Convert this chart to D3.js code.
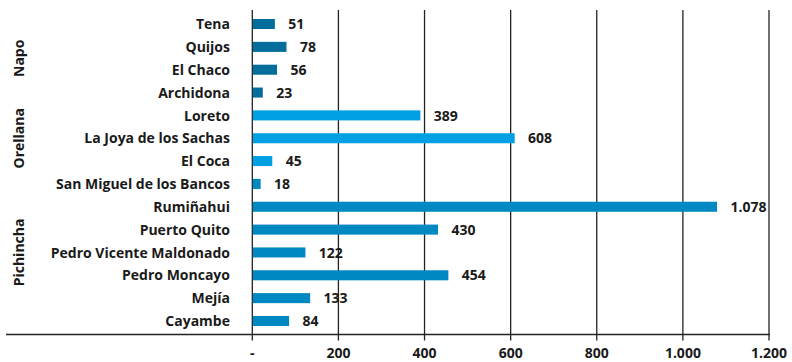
<!DOCTYPE html>
<html>
<head>
<meta charset="utf-8">
<script src="https://cdn.jsdelivr.net/npm/d3@7"></script>
<style>
  html, body { margin: 0; padding: 0; background: #fff; }
  svg text { font-family: "Open Sans", "Noto Sans", sans-serif; font-weight: 700; fill: #1a1a1a; }
</style>
</head>
<body>
<svg id="chart" width="792" height="362"></svg>
<script>
// Cantones y sus valores
const cantones = ["Tena", "Quijos", "El Chaco", "Archidona", "Loreto", "La Joya de los Sachas",
  "El Coca", "San Miguel de los Bancos", "Rumiñahui", "Puerto Quito",
  "Pedro Vicente Maldonado", "Pedro Moncayo", "Mejía", "Cayambe"];
const valores = [51, 78, 56, 23, 389, 608, 45, 18, 1078, 430, 122, 454, 133, 84];
const provinciaDeCanton = ["Napo", "Napo", "Napo", "Napo", "Orellana", "Orellana", "Orellana",
  "Pichincha", "Pichincha", "Pichincha", "Pichincha", "Pichincha", "Pichincha", "Pichincha"];
const provincias = ["Napo", "Orellana", "Pichincha"];
const coloresProvincia = ["#036d9b", "#00a0e3", "#0088c2"];
const ticksX = [0, 200, 400, 600, 800, 1000, 1200];
const etiquetasX = ["-", "200", "400", "600", "800", "1.000", "1.200"];

const svg = d3.select("#chart");
const x = d3.scaleLinear().domain([0, 1200]).range([252.3, 769]);
const y = d3.scaleBand().domain(cantones).range([12.6, 332.4]).paddingInner(0.56).paddingOuter(0.28);
const color = d3.scaleOrdinal().domain(provincias).range(coloresProvincia);
const fmt = d3.formatLocale({ decimal: ",", thousands: ".", grouping: [3], currency: ["$", ""] }).format(",d");

const gridTop = 10, baseY = 334.5, fs = 14;

// Líneas de cuadrícula verticales
svg.append("g").selectAll("line").data(ticksX).join("line")
  .attr("x1", d => x(d)).attr("x2", d => x(d))
  .attr("y1", gridTop).attr("y2", baseY + 6)
  .attr("stroke", "#222").attr("stroke-width", 1.3);

// Eje horizontal
svg.append("line").attr("x1", 6).attr("x2", x(1200) + 1)
  .attr("y1", baseY).attr("y2", baseY).attr("stroke", "#222").attr("stroke-width", 1.3);

// Etiquetas del eje X
svg.append("g").selectAll("text").data(ticksX).join("text")
  .attr("x", d => x(d)).attr("y", 358).attr("text-anchor", "middle")
  .attr("font-size", fs).text((d, i) => etiquetasX[i]);

// Barras
const filas = cantones.map((c, i) => ({ c, v: valores[i], p: provinciaDeCanton[i] }));
svg.append("g").selectAll("rect").data(filas).join("rect")
  .attr("x", x(0) + 0.6).attr("y", d => y(d.c))
  .attr("width", d => x(d.v) - x(0)).attr("height", y.bandwidth())
  .attr("fill", d => color(d.p));

// Valores
svg.append("g").selectAll("text").data(filas).join("text")
  .attr("x", d => x(d.v) + 14).attr("y", d => y(d.c) + y.bandwidth() / 2)
  .attr("dy", "0.37em").attr("font-size", fs).text(d => fmt(d.v));

// Nombres de cantones
svg.append("g").selectAll("text").data(filas).join("text")
  .attr("x", 230).attr("y", d => y(d.c) + y.bandwidth() / 2)
  .attr("dy", "0.37em").attr("text-anchor", "end").attr("font-size", fs).text(d => d.c);

// Nombres de provincias
provincias.forEach(p => {
  const grupo = filas.filter(d => d.p === p);
  const cy = (y(grupo[0].c) + y(grupo[grupo.length - 1].c) + y.bandwidth()) / 2;
  svg.append("text").attr("transform", `translate(24,${cy}) rotate(-90)`)
    .attr("text-anchor", "middle").attr("font-size", fs).text(p);
});
</script>
</body>
</html>
